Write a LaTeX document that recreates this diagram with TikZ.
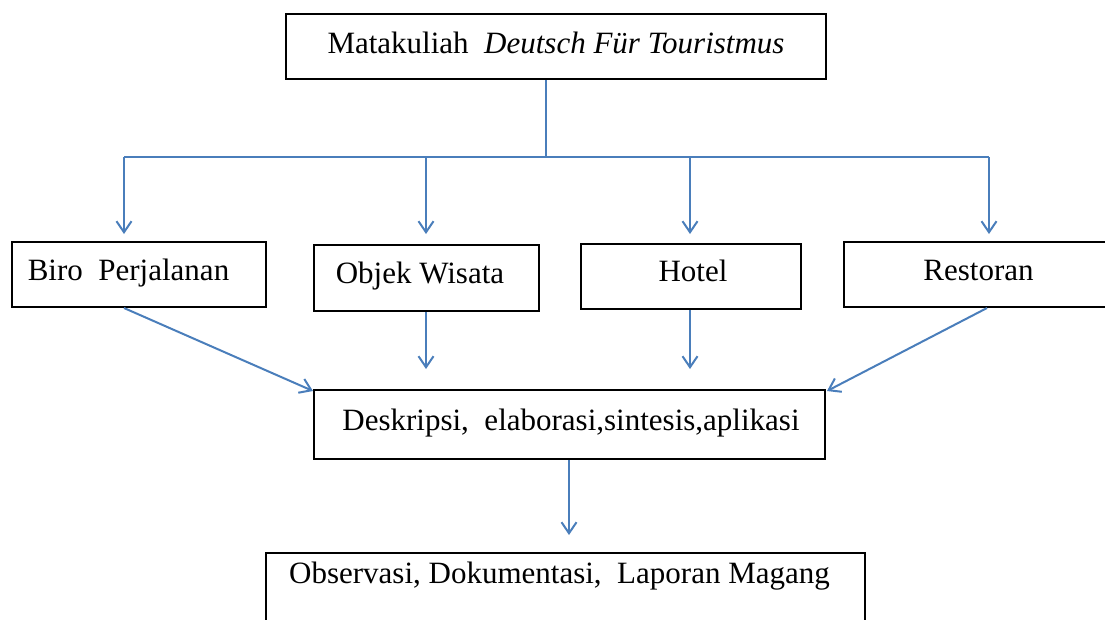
\documentclass[tikz,border=0pt]{standalone}
\usepackage{fontspec}
\setmainfont{Liberation Serif}
\usetikzlibrary{arrows.meta}
\definecolor{arrowblue}{RGB}{74,126,187}
\tikzset{
  box/.style={draw=black, line width=2pt, rectangle, inner sep=0pt, fill=white},
  lbl/.style={anchor=base, inner sep=0pt, font=\fontsize{31}{37}\selectfont},
  conn/.style={draw=arrowblue, line width=2pt},
  arr/.style={conn, -{Straight Barb[length=11pt,width=15pt,line width=2pt]}}
}
\begin{document}
\begin{tikzpicture}[x=1pt,y=-1pt]
\useasboundingbox (0,0) rectangle (1105,619);
% boxes
\node[box, minimum width=540pt, minimum height=65pt] (top) at (556,46.5) {};
\node[box, minimum width=254pt, minimum height=65pt] (biro) at (139,274.5) {};
\node[box, minimum width=225pt, minimum height=66pt] (objek) at (426.5,278) {};
\node[box, minimum width=220pt, minimum height=65pt] (hotel) at (691,276.5) {};
\node[box, minimum width=286pt, minimum height=65pt] (resto) at (987,274.5) {};
\node[box, minimum width=511pt, minimum height=69pt] (desk) at (569.5,424.5) {};
\node[box, minimum width=599pt, minimum height=107pt] (obs) at (565.5,606.5) {};
% labels
\node[lbl] (ttop) at (556,53) {Matakuliah\ \ \textit{Deutsch Für Touristmus}};
\node[lbl] (tbiro) at (128.5,280) {Biro\ \ Perjalanan};
\node[lbl] (tobjek) at (420,283) {Objek Wisata};
\node[lbl] (thotel) at (693,281) {Hotel};
\node[lbl] (tresto) at (978.5,280) {Restoran};
\node[lbl] (tdesk) at (571,430) {Deskripsi,\ \ elaborasi,sintesis,aplikasi};
\node[lbl] (tobs) at (559.5,583) {Observasi,\ Dokumentasi,\ \ Laporan Magang};
% bus coordinates
\coordinate (bus) at (546,157);
\coordinate (busL) at (124,157);
\coordinate (busO) at (426,157);
\coordinate (busH) at (690,157);
\coordinate (busR) at (989,157);
\coordinate (tipB) at (124,234);
\coordinate (tipO) at (426,234);
\coordinate (tipH) at (690,234);
\coordinate (tipR) at (989,234);
\coordinate (bB) at (124,308);
\coordinate (dTL) at (313,391);
\coordinate (bR) at (987,308);
\coordinate (dTR) at (827,391);
\coordinate (tipO2) at (426,369);
\coordinate (tipH2) at (690,369);
\coordinate (tipD) at (569,535);
% connectors
\draw[conn] (top.south -| bus) -- (bus);
\draw[conn] (busL) -- (busR);
\draw[arr] (busL) -- (tipB);
\draw[arr] (busO) -- (tipO);
\draw[arr] (busH) -- (tipH);
\draw[arr] (busR) -- (tipR);
\draw[arr] (bB) -- (dTL);
\draw[arr] (objek.south -| tipO2) -- (tipO2);
\draw[arr] (hotel.south -| tipH2) -- (tipH2);
\draw[arr] (bR) -- (dTR);
\draw[arr] (desk.south -| tipD) -- (tipD);
\end{tikzpicture}
\end{document}
